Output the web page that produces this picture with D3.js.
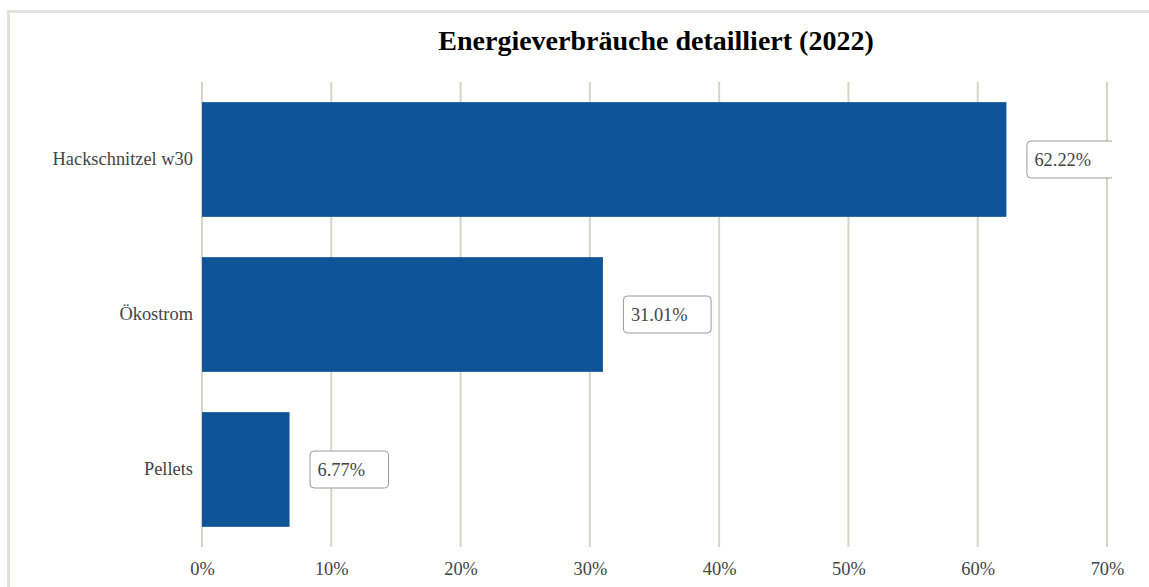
<!DOCTYPE html>
<meta charset="utf-8">
<style>
  body { margin: 0; background: #fff; }
  text { font-family: "Liberation Serif", "DejaVu Serif", serif; }
  .grid line { stroke: #d9d4c9; stroke-width: 2px; }
  .tick text { fill: #444; font-size: 18.4px; }
  .title { font-size: 28px; font-weight: bold; fill: #000; }
  .lbl rect { fill: #fff; stroke: #9a9a9a; stroke-width: 1px; }
  .lbl text { fill: #444; font-size: 18.4px; }
</style>
<svg width="1149" height="587"></svg>
<script src="https://d3js.org/d3.v7.min.js"></script>
<script>
  var categories = ["Hackschnitzel w30", "Ökostrom", "Pellets"];
  var values = [62.22, 31.01, 6.77];
  var xTicks = [0, 10, 20, 30, 40, 50, 60, 70];

  var svg = d3.select("svg"),
    width = +svg.attr("width"),
    height = +svg.attr("height");

  // outer frame (only left + top visible in the screenshot)
  svg.append("rect")
    .attr("x", 8.5).attr("y", 11.5)
    .attr("width", 1200).attr("height", 700)
    .attr("fill", "none")
    .attr("stroke", "#e3e1dd")
    .attr("stroke-width", 3);

  var x = d3.scaleLinear().domain([0, 70]).range([202, 1107]);
  var y = d3.scaleBand().domain(categories).range([82, 547])
    .paddingInner(0.26).paddingOuter(0.13);

  svg.append("defs").append("clipPath").attr("id", "clip")
    .append("rect").attr("x", 0).attr("y", 0).attr("width", 1112).attr("height", height);

  svg.append("text")
    .attr("class", "title")
    .attr("x", 656)
    .attr("y", 50)
    .attr("text-anchor", "middle")
    .text("Energieverbräuche detailliert (2022)");

  //vertical grid
  svg.append("g")
    .attr("class", "grid")
    .selectAll("line")
    .data(xTicks)
    .enter().append("line")
    .attr("x1", d => x(d)).attr("x2", d => x(d))
    .attr("y1", 82).attr("y2", 547);

  //bars
  svg.append("g")
    .selectAll("rect")
    .data(values)
    .enter().append("rect")
    .attr("x", x(0))
    .attr("y", (d, i) => y(categories[i]))
    .attr("width", d => x(d) - x(0))
    .attr("height", y.bandwidth())
    .attr("fill", "#0f5499");

  //x axis labels
  var xAxis = svg.append("g")
    .attr("transform", "translate(0,551)")
    .call(d3.axisBottom(x).tickValues(xTicks).tickSize(0).tickPadding(11)
      .tickFormat(d => d + "%"));
  xAxis.select(".domain").remove();

  //y axis labels
  var yAxis = svg.append("g")
    .attr("transform", "translate(193,0)")
    .call(d3.axisLeft(y).tickSize(0).tickPadding(0));
  yAxis.select(".domain").remove();
  yAxis.selectAll("text").attr("dy", "0.32em");

  //value labels in boxes
  var lbl = svg.append("g")
    .attr("clip-path", "url(#clip)")
    .selectAll("g")
    .data(values)
    .enter().append("g")
    .attr("class", "lbl")
    .attr("transform", (d, i) => "translate(" + (x(d) + 20) + "," + (y(categories[i]) + y.bandwidth() / 2) + ")");

  lbl.append("text")
    .attr("x", 8)
    .attr("dy", "0.35em")
    .text(d => d.toFixed(2) + "%");

  lbl.each(function() {
    var g = d3.select(this);
    var w = g.select("text").node().getComputedTextLength();
    g.insert("rect", "text")
      .attr("x", 0.5).attr("y", -18.5)
      .attr("width", w + 31).attr("height", 37)
      .attr("rx", 4).attr("ry", 4);
  });
</script>
